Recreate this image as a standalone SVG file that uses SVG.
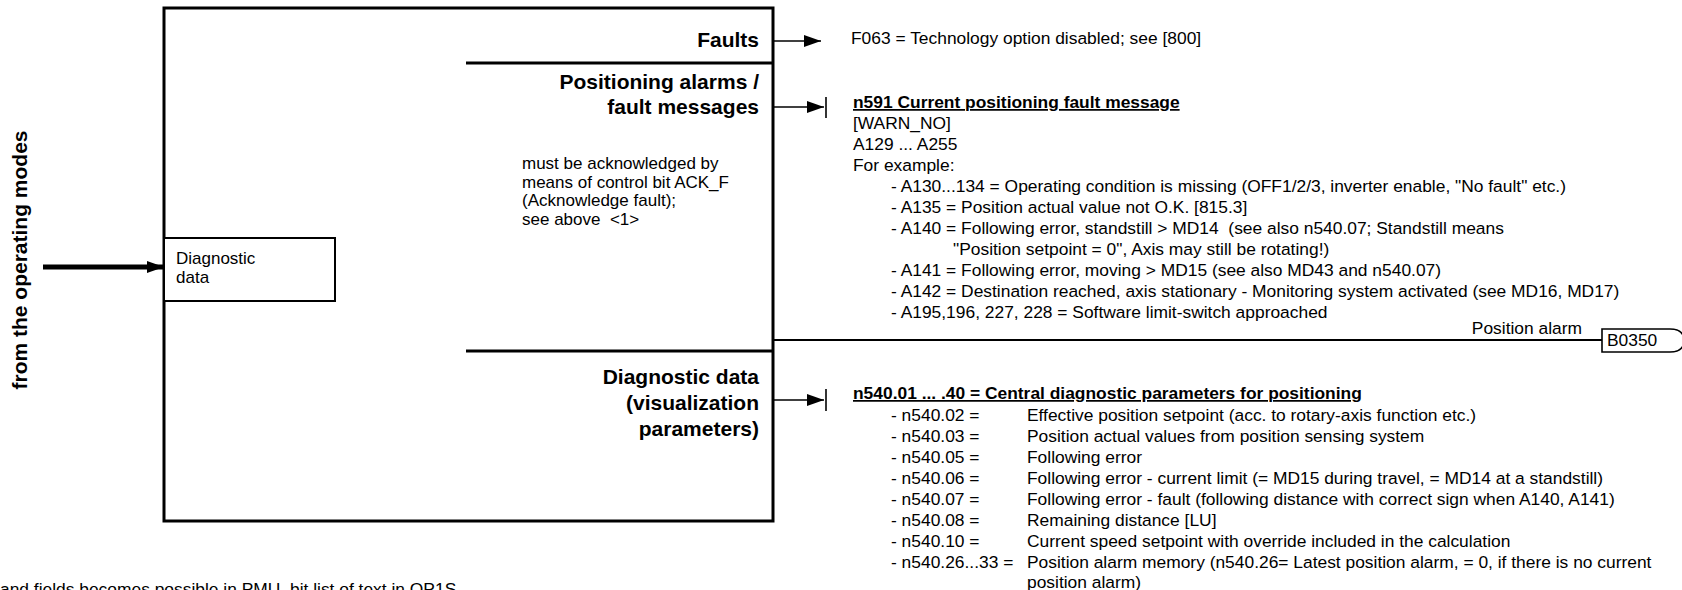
<svg xmlns="http://www.w3.org/2000/svg" width="1682" height="590" viewBox="0 0 1682 590">
<style>
text{font-family:"Liberation Sans",Arial,sans-serif;fill:#000;white-space:pre}
.h{font-weight:bold;font-size:21px;text-anchor:end}
.b{font-size:17.4px}
.n{font-size:17px}
.u{font-weight:bold;text-decoration:underline}
.thick{fill:none;stroke:#000;stroke-width:3}
.thin{fill:none;stroke:#000;stroke-width:1.6}
</style>
<defs>
<marker id="arr" viewBox="0 0 10 10" refX="10" refY="5" markerWidth="17" markerHeight="12" markerUnits="userSpaceOnUse" orient="auto" preserveAspectRatio="none"><path d="M0,0 L10,5 L0,10 Z" fill="#000"/></marker>
</defs>
<rect width="1682" height="590" fill="#fff"/>
<g id="main-block">
<rect x="164" y="8" width="609" height="513" class="thick"/>
<line x1="466" y1="63" x2="773" y2="63" class="thick"/>
<line x1="466" y1="351" x2="773" y2="351" class="thick"/>
<text class="h" x="759" y="47">Faults</text>
<text class="h" x="759" y="89">Positioning alarms /</text>
<text class="h" x="759" y="114">fault messages</text>
<text class="n" x="522" y="169">must be acknowledged by</text>
<text class="n" x="522" y="187.5">means of control bit ACK_F</text>
<text class="n" x="522" y="206">(Acknowledge fault);</text>
<text class="n" x="522" y="224.5">see above  &lt;1&gt;</text>
<text class="h" x="759" y="384">Diagnostic data</text>
<text class="h" x="759" y="410">(visualization</text>
<text class="h" x="759" y="436">parameters)</text>
</g>
<g id="diag-box">
<rect x="164" y="238" width="171" height="63" fill="#fff" stroke="#000" stroke-width="2"/>
<text class="n" x="176" y="264">Diagnostic</text>
<text class="n" x="176" y="283">data</text>
</g>
<g id="input-label">
<text transform="translate(27,260) rotate(-90)" text-anchor="middle" style="font-weight:bold;font-size:21px">from the operating modes</text>
</g>
<g id="faults-out">
<text class="b" x="851" y="44">F063 = Technology option disabled; see [800]</text>
</g>
<g id="alarms-out">
<text class="b u" x="853" y="108">n591 Current positioning fault message</text>
<text class="b" x="853" y="129">[WARN_NO]</text>
<text class="b" x="853" y="150">A129 ... A255</text>
<text class="b" x="853" y="171">For example:</text>
<text class="b" x="891" y="192">- A130...134 = Operating condition is missing (OFF1/2/3, inverter enable, "No fault" etc.)</text>
<text class="b" x="891" y="213">- A135 = Position actual value not O.K. [815.3]</text>
<text class="b" x="891" y="234">- A140 = Following error, standstill &gt; MD14  (see also n540.07; Standstill means</text>
<text class="b" x="953" y="255">"Position setpoint = 0", Axis may still be rotating!)</text>
<text class="b" x="891" y="276">- A141 = Following error, moving &gt; MD15 (see also MD43 and n540.07)</text>
<text class="b" x="891" y="297">- A142 = Destination reached, axis stationary - Monitoring system activated (see MD16, MD17)</text>
<text class="b" x="891" y="318">- A195,196, 227, 228 = Software limit-switch approached</text>
</g>
<g id="diag-out">
<text class="b u" x="853" y="399">n540.01 ... .40 = Central diagnostic parameters for positioning</text>
<text class="b" x="891" y="421">- n540.02 =</text><text class="b" x="1027" y="421">Effective position setpoint (acc. to rotary-axis function etc.)</text>
<text class="b" x="891" y="442">- n540.03 =</text><text class="b" x="1027" y="442">Position actual values from position sensing system</text>
<text class="b" x="891" y="463">- n540.05 =</text><text class="b" x="1027" y="463">Following error</text>
<text class="b" x="891" y="484">- n540.06 =</text><text class="b" x="1027" y="484">Following error - current limit (= MD15 during travel, = MD14 at a standstill)</text>
<text class="b" x="891" y="505">- n540.07 =</text><text class="b" x="1027" y="505">Following error - fault (following distance with correct sign when A140, A141)</text>
<text class="b" x="891" y="526">- n540.08 =</text><text class="b" x="1027" y="526">Remaining distance [LU]</text>
<text class="b" x="891" y="547">- n540.10 =</text><text class="b" x="1027" y="547">Current speed setpoint with override included in the calculation</text>
<text class="b" x="891" y="568">- n540.26...33 =</text><text class="b" x="1027" y="568">Position alarm memory (n540.26= Latest position alarm, = 0, if there is no current</text>
<text class="b" x="1027" y="588">position alarm)</text>
</g>
<g id="b0350">
<path d="M1602,329 H1670 Q1684,329 1684,340.5 Q1684,352 1670,352 H1602 Z" fill="#fff" stroke="#000" stroke-width="1.6"/>
<text class="b" x="1607" y="346">B0350</text>
<text class="b" x="1582" y="334" text-anchor="end">Position alarm</text>
</g>
<g id="footnote">
<text class="b" x="0" y="595">and fields becomes possible in PMU, bit list of text in OP1S</text>
</g>
<g id="connectors">
<line x1="43" y1="267" x2="164" y2="267" stroke="#000" stroke-width="5" marker-end="url(#arr)"/>
<line x1="773" y1="41" x2="821" y2="41" class="thin" marker-end="url(#arr)"/>
<line x1="773" y1="107" x2="824" y2="107" class="thin" marker-end="url(#arr)"/>
<line x1="826" y1="97" x2="826" y2="118" class="thin"/>
<line x1="773" y1="400" x2="824" y2="400" class="thin" marker-end="url(#arr)"/>
<line x1="826" y1="389" x2="826" y2="411" class="thin"/>
<line x1="773" y1="340" x2="1602" y2="340" stroke="#000" stroke-width="2"/>
</g>
</svg>
